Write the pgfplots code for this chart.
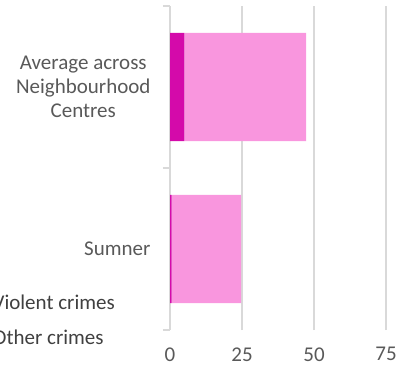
\documentclass[border=0pt]{standalone}
\usepackage{pgfplots}
\pgfplotsset{compat=1.18}
\usepackage{fontspec}
\setmainfont{Carlito}
\definecolor{violent}{HTML}{D40AAA}
\definecolor{other}{HTML}{F996DE}
\definecolor{gridc}{HTML}{D9D9D9}
\definecolor{labc}{HTML}{595959}
\definecolor{legc}{HTML}{404040}
\begin{document}
\begin{tikzpicture}
\useasboundingbox (0,0) rectangle (414bp,374bp);
\clip (0,0) rectangle (414bp,374bp);
\begin{axis}[
  at={(170bp,44bp)}, anchor=south west,
  scale only axis, width=216bp, height=324bp,
  xbar stacked, bar width=0.667,
  xmin=0, xmax=75, ymin=-0.5, ymax=1.5,
  xtick={0,25,50,75},
  ytick={0,1},
  yticklabels={Sumner, {Average across\\Neighbourhood\\Centres}},
  minor ytick={-0.5,0.5,1.5},
  axis lines*=left,
  x axis line style={draw=none},
  y axis line style={draw=gridc, line width=1.5bp, -},
  major tick length=0pt,
  minor tick length=7bp,
  tick align=outside,
  minor tick style={draw=gridc, line width=1.5bp},
  xmajorgrids,
  grid style={draw=gridc, line width=1.5bp},
  /pgf/number format/assume math mode=true,
  tick label style={font=\fontsize{21bp}{24bp}\selectfont, text=labc},
  xticklabel style={yshift=-14bp},
  yticklabel style={align=center, xshift=-16bp},
  legend style={at={(axis description cs:-0.2546,0.111)}, anchor=north east,
    draw=none, fill=none, font=\fontsize{21bp}{24bp}\selectfont, text=legc,
    row sep=16bp, inner sep=0pt,
    nodes={text height=15bp, text depth=4bp, inner sep=0pt}},
  legend cell align=left,
  legend image code/.code={\fill[#1] (0,-5bp) rectangle (10bp,5bp);},
]
\addplot[fill=violent, draw=none] coordinates {(0.6,0) (5.0,1)};
\addplot[fill=other, draw=none] coordinates {(24.1,0) (42.3,1)};
\legend{Violent crimes, Other crimes}
\end{axis}
\end{tikzpicture}
\end{document}
